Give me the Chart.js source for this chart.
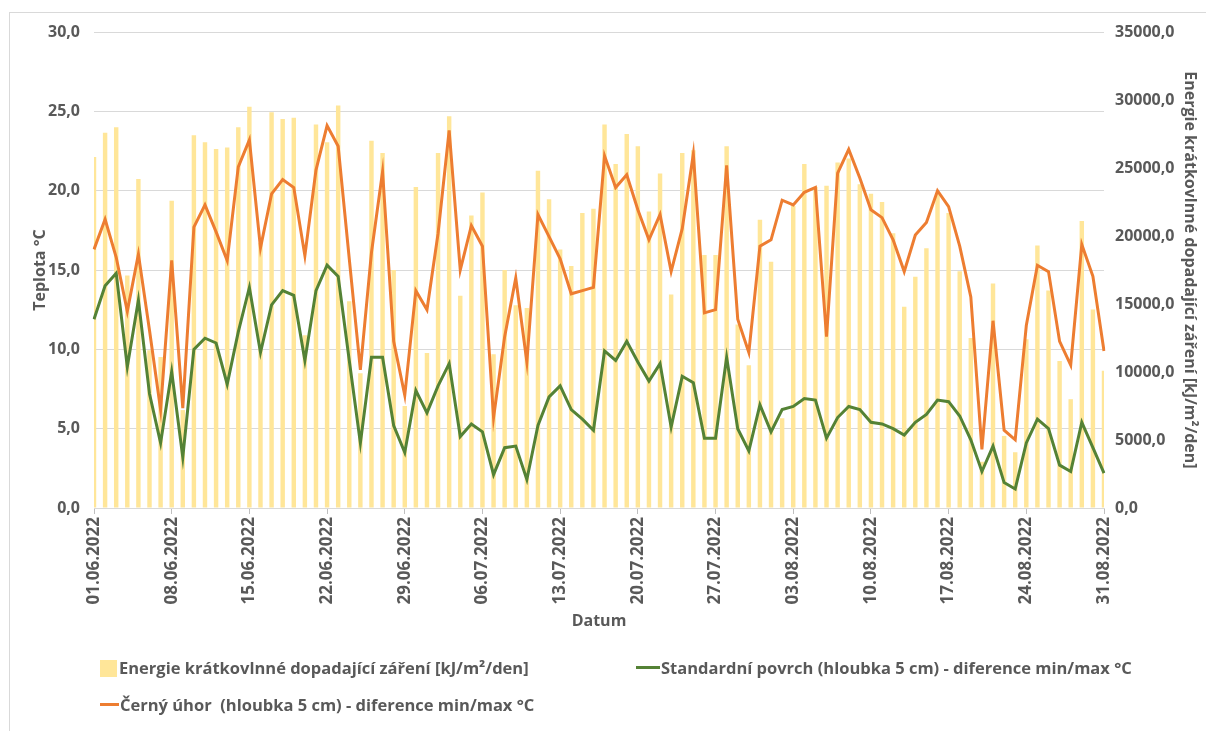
<!DOCTYPE html>
<html>
<head>
<meta charset="utf-8">
<script src="https://cdn.jsdelivr.net/npm/chart.js@4.4.1/dist/chart.umd.min.js"></script>
<style>
  body { margin: 0; background: #fff; }
  #wrap { position: relative; width: 1206px; height: 731px; overflow: hidden; }
  #frame { position: absolute; left: 9px; top: 12px; width: 1200px; height: 800px; border: 1px solid #D9D9D9; }
  canvas { position: absolute; left: 0; top: 0; }
  .leg { position: absolute; font-family: "Open Sans", sans-serif; font-weight: bold; font-size: 16.5px; color: #595959; white-space: pre; line-height: 20px; }
  .sw { position: absolute; }
</style>
</head>
<body>
<div id="wrap">
  <div id="frame"></div>
  <canvas id="chart" width="1206" height="731"></canvas>
  <div class="sw" style="left:100px;top:660px;width:17px;height:17px;background:#FFE699"></div>
  <div class="leg" style="left:119px;top:658px">Energie krátkovlnné dopadající záření [kJ/m²/den]</div>
  <div class="sw" style="left:636px;top:666px;width:24px;height:3px;background:#548235"></div>
  <div class="leg" style="left:661px;top:658px">Standardní povrch (hloubka 5 cm) - diference min/max °C</div>
  <div class="sw" style="left:100px;top:703px;width:19px;height:3px;background:#ED7D31"></div>
  <div class="leg" style="left:120px;top:695px">Černý úhor  (hloubka 5 cm) - diference min/max °C</div>
</div>
<script>
// days 01.06.2022 - 31.08.2022
const months = ["06", "07", "08"];
const monthDays = [30, 31, 31];
const labels = [];
for (let m = 0; m < months.length; m++) {
  for (let d = 1; d <= monthDays[m]; d++) {
    labels.push(String(d).padStart(2, "0") + "." + months[m] + ".2022");
  }
}

// Energie kratkovlnne dopadajici zareni [kJ/m2/den]
const energie = [
  25800, 27600, 28000, 17100, 24200, 11600, 11100, 22600, 7200, 27400,
  26900, 26400, 26500, 28000, 29500, 19500, 29100, 28600, 28700, 12700,
  28200, 26900, 29600, 15200, 9900, 27000, 26100, 17500, 7500, 23600,
  11400, 26100, 28800, 15600, 21500, 23200, 11300, 17500, 14900, 14700,
  24800, 22700, 19000, 17800, 21700, 22000, 28200, 25300, 27500, 26600,
  21800, 24600, 15700, 26100, 26300, 18600, 18600, 26600, 13500, 10500,
  21200, 18100, 6600, 22200, 25300, 23600, 23700, 25400, 25700, 23800,
  23100, 22500, 20200, 14800, 17000, 19100, 23100, 21700, 17400, 12500,
  3400, 16500, 5300, 4100, 12400, 19300, 16000, 10800, 8000, 21100,
  14600, 10100
];

// Standardni povrch - diference min/max
const standard = [
  11.9, 14.0, 14.8, 8.9, 13.1, 7.2, 4.1, 8.6, 3.2, 10.0,
  10.7, 10.4, 7.8, 11.1, 13.9, 9.8, 12.8, 13.7, 13.4, 9.3,
  13.7, 15.3, 14.6, 9.3, 4.1, 9.5, 9.5, 5.2, 3.5, 7.4,
  6.0, 7.7, 9.1, 4.5, 5.3, 4.8, 2.1, 3.8, 3.9, 1.8,
  5.2, 7.0, 7.7, 6.2, 5.6, 4.9, 9.9, 9.3, 10.5, 9.2,
  8.0, 9.1, 5.1, 8.3, 7.9, 4.4, 4.4, 9.5, 5.0, 3.6,
  6.5, 4.8, 6.2, 6.4, 6.9, 6.8, 4.4, 5.7, 6.4, 6.2,
  5.4, 5.3, 5.0, 4.6, 5.4, 5.9, 6.8, 6.7, 5.8, 4.3,
  2.3, 3.9, 1.6, 1.2, 4.1, 5.6, 5.0, 2.7, 2.3, 5.4,
  3.8, 2.2
];

// Cerny uhor - diference min/max
const cernyUhor = [
  16.3, 18.2, 15.8, 12.4, 16.0, 11.2, 6.2, 15.6, 6.3, 17.7,
  19.1, 17.4, 15.6, 21.5, 23.2, 16.4, 19.8, 20.7, 20.2, 15.9,
  21.3, 24.1, 22.8, 15.7, 8.7, 16.1, 21.2, 10.5, 7.1, 13.7,
  12.5, 17.3, 23.8, 15.0, 17.8, 16.5, 5.7, 10.8, 14.5, 9.2,
  18.5, 17.1, 15.7, 13.5, 13.7, 13.9, 22.2, 20.2, 21.0, 18.8,
  16.9, 18.5, 14.9, 17.6, 22.3, 12.3, 12.5, 21.6, 11.9, 9.8,
  16.5, 16.9, 19.4, 19.1, 19.9, 20.2, 10.8, 21.1, 22.6, 20.8,
  18.8, 18.3, 16.9, 14.9, 17.2, 18.0, 20.0, 19.0, 16.5, 13.3,
  3.7, 11.8, 4.9, 4.3, 11.5, 15.3, 14.9, 10.5, 9.0, 16.6,
  14.6, 9.9
];

Chart.defaults.font.family = "'Open Sans', sans-serif";
Chart.defaults.font.weight = "bold";
Chart.defaults.font.size = 16;
Chart.defaults.color = "#595959";

function comma(v, digits) {
  return Number(v).toFixed(digits).replace(".", ",");
}

const ctx = document.getElementById("chart");

new Chart(ctx, {
  type: "bar",
  data: {
    labels: labels,
    datasets: [
      {
        type: "line",
        label: "Černý úhor  (hloubka 5 cm) - diference min/max °C",
        data: cernyUhor,
        borderColor: "#ED7D31",
        backgroundColor: "#ED7D31",
        borderWidth: 3,
        pointRadius: 0,
        tension: 0,
        yAxisID: "y",
      },
      {
        type: "line",
        label: "Standardní povrch (hloubka 5 cm) - diference min/max °C",
        data: standard,
        borderColor: "#548235",
        backgroundColor: "#548235",
        borderWidth: 3,
        pointRadius: 0,
        tension: 0,
        yAxisID: "y",
      },
      {
        type: "bar",
        label: "Energie krátkovlnné dopadající záření [kJ/m²/den]",
        data: energie,
        backgroundColor: "#FFE699",
        barPercentage: 0.4,
        categoryPercentage: 1,
        yAxisID: "y1",
      },
    ],
  },
  options: {
    responsive: false,
    animation: false,
    devicePixelRatio: 1,
    layout: { padding: { left: 0, right: 0, top: 32, bottom: 0 } },
    plugins: {
      legend: { display: false },
      tooltip: { enabled: false },
    },
    scales: {
      x: {
        offset: false,
        grid: {
          offset: false,
          drawOnChartArea: false,
          tickLength: 6,
          color: (c) => (c.index % 7 === 0 ? "#BFBFBF" : "rgba(0,0,0,0)"),
        },
        border: { color: "#D9D9D9" },
        ticks: {
          autoSkip: false,
          minRotation: 90,
          maxRotation: 90,
          padding: 3,
          font: { size: 17 },
          callback: function (value, index) {
            return index % 7 === 0 ? labels[index] : "";
          },
        },
        title: {
          display: true,
          text: "Datum",
          padding: { top: 4, bottom: 100 },
        },
        afterFit: (scale) => {
          scale.height = 223;
        },
      },
      y: {
        position: "left",
        min: 0,
        max: 30,
        ticks: {
          stepSize: 5,
          padding: 14,
          callback: (v) => comma(v, 1),
        },
        grid: { color: "#D9D9D9", drawTicks: false },
        border: { display: false },
        title: {
          display: true,
          text: "Teplota °C",
          padding: { top: 31, bottom: 4 },
        },
        afterFit: (scale) => {
          scale.width = 94;
        },
      },
      y1: {
        position: "right",
        min: 0,
        max: 35000,
        ticks: {
          stepSize: 5000,
          padding: 11,
          callback: (v) => comma(v, 1),
        },
        grid: { drawOnChartArea: false, drawTicks: false },
        border: { display: false },
        title: {
          display: true,
          text: "Energie krátkovlnné dopadající záření [kJ/m²/den]",
          padding: { top: 7, bottom: 4 },
        },
        afterFit: (scale) => {
          scale.width = 102;
        },
      },
    },
  },
});
</script>
</body>
</html>
